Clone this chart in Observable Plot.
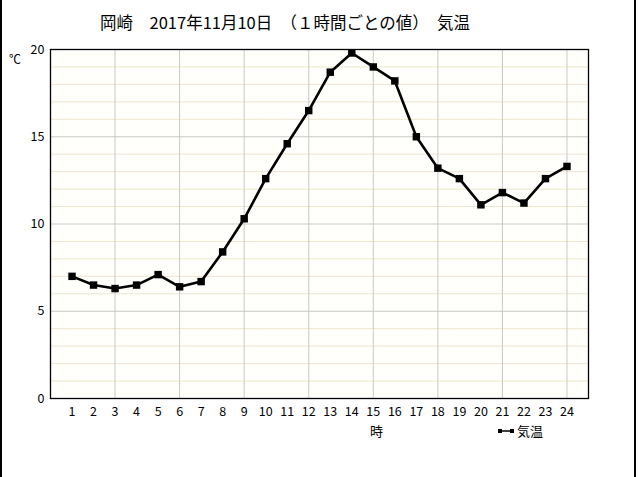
<!DOCTYPE html>
<html><head><meta charset="utf-8">
<script src="https://cdn.jsdelivr.net/npm/d3@7"></script>
<script src="https://cdn.jsdelivr.net/npm/@observablehq/plot@0.6"></script>
<style>
body{margin:0;background:#fff;}
#wrap{position:relative;width:640px;height:477px;overflow:hidden;font-family:"Noto Sans CJK JP",sans-serif;color:#000;}
#wrap svg{position:absolute;left:0;top:0;}
.lbl{position:absolute;font-size:13px;line-height:1;white-space:nowrap;}
#bl{position:absolute;left:0;top:0;width:2px;height:477px;background:#000;}
#br{position:absolute;left:634px;top:0;width:2px;height:477px;background:#000;}
</style></head>
<body><div id="wrap"><div id="bl"></div><div id="br"></div></div>
<script>
const title = "岡崎　2017年11月10日　（１時間ごとの値）　気温";
const hours = [1,2,3,4,5,6,7,8,9,10,11,12,13,14,15,16,17,18,19,20,21,22,23,24];
const temps = [7.0,6.5,6.3,6.5,7.1,6.4,6.7,8.4,10.3,12.6,14.6,16.5,18.7,19.8,19.0,18.2,15.0,13.2,12.6,11.1,11.8,11.2,12.6,13.3];
const yTicks = [0,5,10,15,20];
const yMinor = [1,2,3,4,6,7,8,9,11,12,13,14,16,17,18,19];
const xGrid = [3,6,9,12,15,18,21,24];
const yUnit = "℃";
const xUnit = "時";
const seriesName = "気温";

const data = hours.map((h,i)=>({h, t: temps[i]}));

const chart = Plot.plot({
  width: 640, height: 477,
  marginLeft: 50, marginRight: 52, marginTop: 49, marginBottom: 79,
  style: {fontFamily: '"Noto Sans CJK JP", sans-serif', fontSize: "12.5px", background: "transparent", color: "#000"},
  x: {domain: [0, 25], ticks: hours, tickSize: 0, tickPadding: 9, label: null},
  y: {domain: [0, 20], ticks: yTicks, tickSize: 0, tickPadding: 6, label: null},
  marks: [
    Plot.rect([0], {x1: 0, x2: 25, y1: 0, y2: 20, fill: "#fffffb"}),
    Plot.ruleY(yMinor, {stroke: "#ece6cf", strokeWidth: 1}),
    Plot.ruleY(yTicks, {stroke: "#c8c8c8", strokeWidth: 1}),
    Plot.ruleX(xGrid, {stroke: "#c8c8c8", strokeWidth: 1}),
    Plot.axisX({ticks: hours, tickSize: 0, tickPadding: 9, label: null}),
    Plot.axisY({ticks: yTicks, tickSize: 0, tickPadding: 6, label: null}),
    Plot.line(data, {x: "h", y: "t", stroke: "#000", strokeWidth: 2.6}),
    Plot.dot(data, {x: "h", y: "t", symbol: "square", r: 4.2, fill: "#000", stroke: "none"}),
    Plot.frame({stroke: "#000", strokeWidth: 1.3})
  ]
});
const wrap = document.getElementById("wrap");
wrap.appendChild(chart);

function addLabel(text, left, top, size){
  const d = document.createElement("div");
  d.className = "lbl";
  d.textContent = text;
  d.style.left = left + "px";
  d.style.top = top + "px";
  if (size) d.style.fontSize = size + "px";
  wrap.appendChild(d);
  return d;
}
addLabel(title, 100, 14, 16.5);
addLabel(yUnit, 9, 53, 12);
addLabel(xUnit, 370, 424, 13);
// legend
const lg = document.createElement("div");
lg.className = "lbl";
lg.style.left = "498px"; lg.style.top = "424px";
lg.style.display = "flex"; lg.style.alignItems = "center";
lg.innerHTML = '<svg width="16" height="10" style="position:static"><line x1="1" y1="5" x2="15" y2="5" stroke="#000" stroke-width="1.5"/><rect x="0" y="3" width="4" height="4" fill="#000"/><rect x="12" y="3" width="4" height="4" fill="#000"/></svg>';
const sp = document.createElement("span");
sp.textContent = " " + seriesName;
sp.style.marginLeft = "3px";
lg.appendChild(sp);
wrap.appendChild(lg);
</script>
</body></html>
